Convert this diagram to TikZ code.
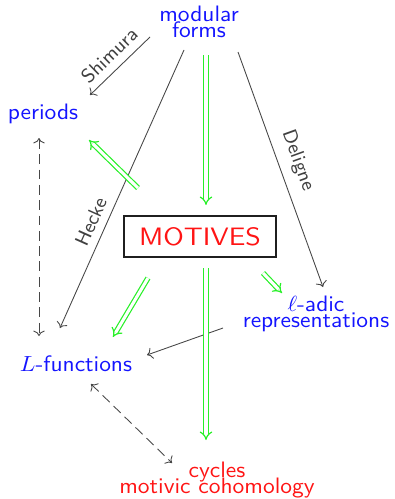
\documentclass[tikz,border=0pt]{standalone}
\usetikzlibrary{arrows.meta}
\definecolor{tblue}{RGB}{20,20,255}
\definecolor{tred}{RGB}{255,20,20}
\definecolor{tgreen}{RGB}{40,240,40}
\newcommand{\tightlines}{\lineskiplimit=-20pt\relax\lineskip=0pt\relax}
\tikzset{
  lab/.style={font=\sffamily\fontsize{10.2}{7.2}\selectfont\tightlines, align=center, inner sep=0pt, xscale=1.05},
  bl/.style={lab, text=tblue},
  rd/.style={lab, text=tred},
  thin arr/.style={->, draw=black!72, line width=0.4pt},
  dash arr/.style={<->, draw=black!72, line width=0.4pt, dash pattern=on 4.5pt off 2.5pt},
  grn/.style={-{Implies}, draw=tgreen, double=white, double distance=1.4pt, line width=0.55pt},
  elab/.style={font=\sffamily\fontsize{9}{10}\selectfont, text=black!75, sloped, inner sep=3.5pt},
}
\begin{document}
\begin{tikzpicture}[x=0.4567pt, y=-0.4567pt]
\useasboundingbox (0,0) rectangle (394,499);

\node[bl] (mf) at (199,22) {modular\\forms};
\node[bl] (per) at (43,114) {periods};
\node[bl] (lf) at (76,364) {$L$-functions};
\node[bl] (lad) at (316,314) {$\ell$-adic\\representations};
\node[rd] (cyc) at (217,480) {cycles\\motivic cohomology};
\node[draw=black!88, line width=1.2pt, minimum width=152pt*0.4567, minimum height=41pt*0.4567,
      inner sep=0pt] (mot) at (200,236.5)
      {\scalebox{1.13}[1]{\sffamily\fontsize{11.5}{13}\selectfont\color{tred}MOTIVES}};

% thin arrows
\draw[thin arr] ([shift={(-49,15)}]mf.center) -- node[elab, above, pos=0.5] {Shimura} ([shift={(47,-19)}]per.center);
\draw[thin arr] ([shift={(-15,28)}]mf.center) -- node[elab, above, pos=0.64] {Hecke} ([shift={(-16,-36)}]lf.center);
\draw[thin arr] ([shift={(39,30)}]mf.center) -- node[elab, above, pos=0.49, inner sep=4.5pt] {Deligne} ([shift={(7,-27)}]lad.center);
\draw[thin arr] ([shift={(-93,14)}]lad.center) -- ([shift={(71,-9)}]lf.center);

% dashed
\draw[dash arr] ([shift={(-4,24)}]per.center) -- ([shift={(-37,-28)}]lf.center);
\draw[dash arr] ([shift={(15,20)}]lf.center) -- ([shift={(-45,-17)}]cyc.center);

% green implications
\draw[grn] ([shift={(7,33)}]mf.center) -- ([shift={(6,-31.5)}]mot.center);
\draw[grn] ([shift={(-62,-48.5)}]mot.center) -- ([shift={(46,26)}]per.center);
\draw[grn] ([shift={(-52,41.5)}]mot.center) -- ([shift={(37,-27)}]lf.center);
\draw[grn] ([shift={(63,36.5)}]mot.center) -- ([shift={(-34,-21)}]lad.center);
\draw[grn] ([shift={(6,31.5)}]mot.center) -- ([shift={(-11,-40)}]cyc.center);
\end{tikzpicture}
\end{document}
